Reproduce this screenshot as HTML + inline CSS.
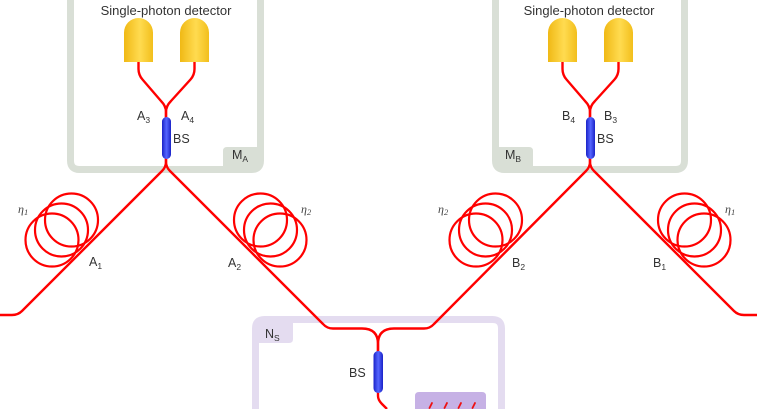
<!DOCTYPE html>
<html><head><meta charset="utf-8"><style>
html,body{margin:0;padding:0;background:#fff;width:757px;height:409px;overflow:hidden;}
svg{display:block;overflow:hidden;}
text{font-family:"Liberation Sans",Arial,sans-serif;fill:#333;}
.eta{font-family:"Liberation Serif",serif;font-style:italic;fill:#444;}
</style></head><body>
<svg width="757" height="409" viewBox="0 0 757 409" xmlns="http://www.w3.org/2000/svg">
<defs>
<linearGradient id="yel" x1="0" x2="1" y1="0" y2="0">
<stop offset="0" stop-color="#f0b915"/><stop offset="0.55" stop-color="#ffdb50"/><stop offset="1" stop-color="#f2bf1c"/>
</linearGradient>
<linearGradient id="blu" x1="0" x2="1" y1="0" y2="0">
<stop offset="0" stop-color="#1a22c8"/><stop offset="0.5" stop-color="#5566ff"/><stop offset="1" stop-color="#1a22c8"/>
</linearGradient>
</defs>

<!-- Boxes -->
<path d="M70.5 0 L70.5 160.5 Q70.5 169.5 79.5 169.5 L251.5 169.5 Q260.5 169.5 260.5 160.5 L260.5 0" fill="#fff" stroke="#d9dfd6" stroke-width="7"/>
<path d="M223 166 L223 151 Q223 147 227 147 L257 147 L257 166 Z" fill="#d9dfd6"/>
<path d="M495.5 0 L495.5 160.5 Q495.5 169.5 504.5 169.5 L675.5 169.5 Q684.5 169.5 684.5 160.5 L684.5 0" fill="#fff" stroke="#d9dfd6" stroke-width="7"/>
<path d="M499 147 L529 147 Q533 147 533 151 L533 166 L499 166 Z" fill="#d9dfd6"/>
<path d="M255.5 409 L255.5 328.5 Q255.5 319.5 264.5 319.5 L492.5 319.5 Q501.5 319.5 501.5 328.5 L501.5 409" fill="#fff" stroke="#e4dcf0" stroke-width="7"/>
<path d="M259 323 L293 323 L293 339 Q293 343 289 343 L259 343 Z" fill="#e4dcf0"/>
<path d="M415 409 L415 396 Q415 392 419 392 L482 392 Q486 392 486 396 L486 409 Z" fill="#c6b1e5"/>
<g stroke="#ee1111" stroke-width="1.8" fill="none" stroke-linecap="round">
<path d="M432 403 L429.5 408"/><path d="M447 403 L444.5 408"/><path d="M461 403 L458.5 408"/><path d="M475 403 L472.5 408"/>
</g>

<!-- Fibers -->
<g fill="none" stroke="#ff0000" stroke-width="2.4" stroke-linejoin="round">
<path d="M138.5 62 L138.5 69 Q138.5 75 142.5 79.5 L161 101 Q166 106 166 112 L166 118"/>
<path d="M194.5 62 L194.5 69 Q194.5 75 190.5 79.5 L171 101 Q166 106 166 112 L166 118"/>
<path d="M562.5 62 L562.5 69 Q562.5 75 566.5 79.5 L585 101 Q590 106 590 112 L590 118"/>
<path d="M618.5 62 L618.5 69 Q618.5 75 614.5 79.5 L595 101 Q590 106 590 112 L590 118"/>
<path d="M166 158 L166 162 Q166 167 162 171 L22 311 Q18 315 12 315 L0 315"/>
<path d="M166 158 L166 162 Q166 167 170 171 L323 324 Q327 328.5 333 328.5 L362 328.5 Q378 328.5 378 344 L378 352"/>
<path d="M590 158 L590 162 Q590 167 586 171 L434 324 Q430 328.5 424 328.5 L394 328.5 Q378 328.5 378 344 L378 352"/>
<path d="M590 158 L590 162 Q590 167 594 171 L734 311 Q738 315 744 315 L757 315"/>
<path d="M378 392 L378 396 Q378 400 382 404 L387 409"/>
<g stroke-width="2.2">
<circle cx="52" cy="240" r="26.5"/><circle cx="61.5" cy="230" r="26.5"/><circle cx="71.5" cy="220" r="26.5"/>
<circle cx="260.5" cy="220" r="26.5"/><circle cx="270.5" cy="230" r="26.5"/><circle cx="280" cy="240" r="26.5"/>
<circle cx="476" cy="240" r="26.5"/><circle cx="485.5" cy="230" r="26.5"/><circle cx="495.5" cy="220" r="26.5"/>
<circle cx="684.5" cy="220" r="26.5"/><circle cx="694.5" cy="230" r="26.5"/><circle cx="704" cy="240" r="26.5"/>
</g>
</g>

<!-- Detectors -->
<path d="M124 62 L124 32.5 A14.5 14.5 0 0 1 153 32.5 L153 62 Z" fill="url(#yel)"/>
<path d="M180 62 L180 32.5 A14.5 14.5 0 0 1 209 32.5 L209 62 Z" fill="url(#yel)"/>
<path d="M548 62 L548 32.5 A14.5 14.5 0 0 1 577 32.5 L577 62 Z" fill="url(#yel)"/>
<path d="M604 62 L604 32.5 A14.5 14.5 0 0 1 633 32.5 L633 62 Z" fill="url(#yel)"/>

<!-- Beam splitters -->
<rect x="162" y="117" width="9" height="42" rx="4.5" fill="url(#blu)"/>
<rect x="586" y="117" width="9" height="42" rx="4.5" fill="url(#blu)"/>
<rect x="373.5" y="351" width="9.5" height="42" rx="4.7" fill="url(#blu)"/>

<!-- Text -->
<text x="166" y="15" font-size="13" text-anchor="middle">Single-photon detector</text>
<text x="589" y="15" font-size="13" text-anchor="middle">Single-photon detector</text>

<text x="137" y="120" font-size="12.5">A<tspan font-size="8.5" dy="3">3</tspan></text>
<text x="181" y="120" font-size="12.5">A<tspan font-size="8.5" dy="3">4</tspan></text>
<text x="173" y="143" font-size="12.5">BS</text>
<text x="232" y="159" font-size="12.5">M<tspan font-size="8.5" dy="3">A</tspan></text>

<text x="562" y="120" font-size="12.5">B<tspan font-size="8.5" dy="3">4</tspan></text>
<text x="604" y="120" font-size="12.5">B<tspan font-size="8.5" dy="3">3</tspan></text>
<text x="597" y="143" font-size="12.5">BS</text>
<text x="505" y="159" font-size="12.5">M<tspan font-size="8.5" dy="3">B</tspan></text>

<text x="265" y="338" font-size="12.5">N<tspan font-size="8.5" dy="3">S</tspan></text>
<text x="349" y="377" font-size="12.5">BS</text>

<text x="89" y="266" font-size="12.5">A<tspan font-size="8.5" dy="3">1</tspan></text>
<text x="228" y="267" font-size="12.5">A<tspan font-size="8.5" dy="3">2</tspan></text>
<text x="512" y="267" font-size="12.5">B<tspan font-size="8.5" dy="3">2</tspan></text>
<text x="653" y="267" font-size="12.5">B<tspan font-size="8.5" dy="3">1</tspan></text>

<text class="eta" x="18" y="213" font-size="12">η<tspan font-size="8.5" dy="2">1</tspan></text>
<text class="eta" x="301" y="213" font-size="12">η<tspan font-size="8.5" dy="2">2</tspan></text>
<text class="eta" x="438" y="213" font-size="12">η<tspan font-size="8.5" dy="2">2</tspan></text>
<text class="eta" x="725" y="213" font-size="12">η<tspan font-size="8.5" dy="2">1</tspan></text>
</svg>
</body></html>
